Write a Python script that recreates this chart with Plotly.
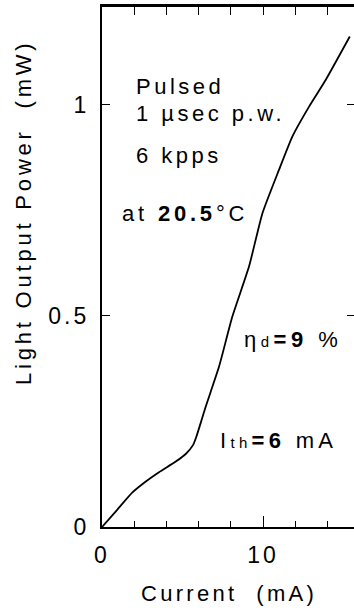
import plotly.graph_objects as go

# Light output vs. drive current (pulsed measurement)
current_ma = [0, 0.86, 1.89, 2.72, 3.54, 4.58, 5.2, 5.65, 5.86, 6.19, 6.44,
              7.27, 8.09, 9.13, 9.96, 10.99, 11.82, 12.86, 13.89, 15.39]
power_mw = [0, 0.037, 0.082, 0.108, 0.130, 0.155, 0.173, 0.194, 0.214, 0.254, 0.285,
            0.380, 0.498, 0.617, 0.743, 0.846, 0.925, 0.996, 1.059, 1.162]

x_tickvals = [0, 10]
x_ticktext = ["0", "10"]
y_tickvals = [0, 0.5, 1]
y_ticktext = ["0", "0.5", "1"]

FONT = "Liberation Sans, Arial, Helvetica, sans-serif"
X_RANGE = [0, 15.65]
Y_RANGE = [0, 1.232]
L, R, T, B, W, H = 102, 0, 7, 83, 354, 610


def spaced(text, px=3.5):
    """Wrap text in a span with extra letter spacing (wide typewriter-like lettering)."""
    return f"<span style='letter-spacing:{px}px'>{text}</span>"


def small(text):
    return f"<span style='font-size:15px'>{text}</span>"


fig = go.Figure()
fig.add_trace(go.Scatter(x=current_ma, y=power_mw, mode="lines",
                         line=dict(color="black", width=1.8, shape="spline", smoothing=0.5),
                         showlegend=False))

fig.update_layout(
    width=W, height=H,
    margin=dict(l=L, r=R, t=T, b=B),
    paper_bgcolor="white", plot_bgcolor="white",
    font=dict(family=FONT, color="black", size=22),
    xaxis=dict(range=X_RANGE, showgrid=False, zeroline=False,
               showline=True, linecolor="black", linewidth=2.2,
               tickvals=x_tickvals, ticktext=[spaced(t, 3) for t in x_ticktext],
               ticks="inside", ticklen=11, tickwidth=1.2, tickcolor="black",
               minor=dict(dtick=2, tick0=0, ticks="inside", ticklen=6,
                          tickwidth=1.2, tickcolor="black"),
               ticklabelstandoff=6,
               tickfont=dict(size=23)),
    yaxis=dict(range=Y_RANGE, showgrid=False, zeroline=False,
               showline=True, linecolor="black", linewidth=2.2,
               tickvals=y_tickvals, ticktext=[spaced(t, 3) for t in y_ticktext],
               ticks="inside", ticklen=8, tickwidth=1.2, tickcolor="black",
               ticklabelstandoff=6,
               tickfont=dict(size=23)),
    xaxis2=dict(range=X_RANGE, overlaying="x", side="top", anchor="y",
                showgrid=False, zeroline=False, showline=True,
                linecolor="black", linewidth=2.6, showticklabels=False,
                tickvals=[2, 4, 6, 8, 10, 12, 14],
                ticks="inside", ticklen=8, tickwidth=1.2, tickcolor="black"),
    yaxis2=dict(range=Y_RANGE, overlaying="y", side="right", anchor="x",
                showgrid=False, zeroline=False, showline=False,
                showticklabels=False, tickvals=[0.5, 1],
                ticks="inside", ticklen=7, tickwidth=1.2, tickcolor="black"),
)
# empty trace so the top/right axes are drawn
fig.add_trace(go.Scatter(x=[None], y=[None], xaxis="x2", yaxis="y2",
                         showlegend=False, hoverinfo="skip"))

notes = [
    (2.0, 1.043, "Pulsed", 3.5),
    (2.0, 0.979, "1 µsec p.w.", 3.5),
    (2.0, 0.881, "6 kpps", 3.5),
    (1.12, 0.742, "at <b>20.5</b>°C", 3.8),
    (8.7, 0.445, "η" + small("d") + "<b>=9</b> %", 4.5),
    (7.2, 0.206, "I" + small("th") + "<b>=6</b> mA", 4.3),
]
for x, y, t, sp in notes:
    fig.add_annotation(x=x, y=y, xref="x", yref="y", text=spaced(t, sp), showarrow=False,
                       xanchor="left", yanchor="middle",
                       font=dict(family=FONT, size=22, color="black"))


def paper_xy(px, py):
    """Pixel position (from top-left of the page) to paper fractions."""
    return (px - L) / (W - L - R), (H - py - B) / (H - B - T)


tx, ty = paper_xy(23, 212)
fig.add_annotation(x=tx, y=ty, xref="paper", yref="paper",
                   text=spaced("Light Output Power  (mW)", 3.8),
                   showarrow=False, textangle=-90, xanchor="center", yanchor="middle",
                   font=dict(family=FONT, size=22, color="black"))
tx, ty = paper_xy(229, 593)
fig.add_annotation(x=tx, y=ty, xref="paper", yref="paper",
                   text=spaced("Current  (mA)", 3.3), showarrow=False,
                   xanchor="center", yanchor="middle",
                   font=dict(family=FONT, size=22, color="black"))

fig.write_html("out.html")
